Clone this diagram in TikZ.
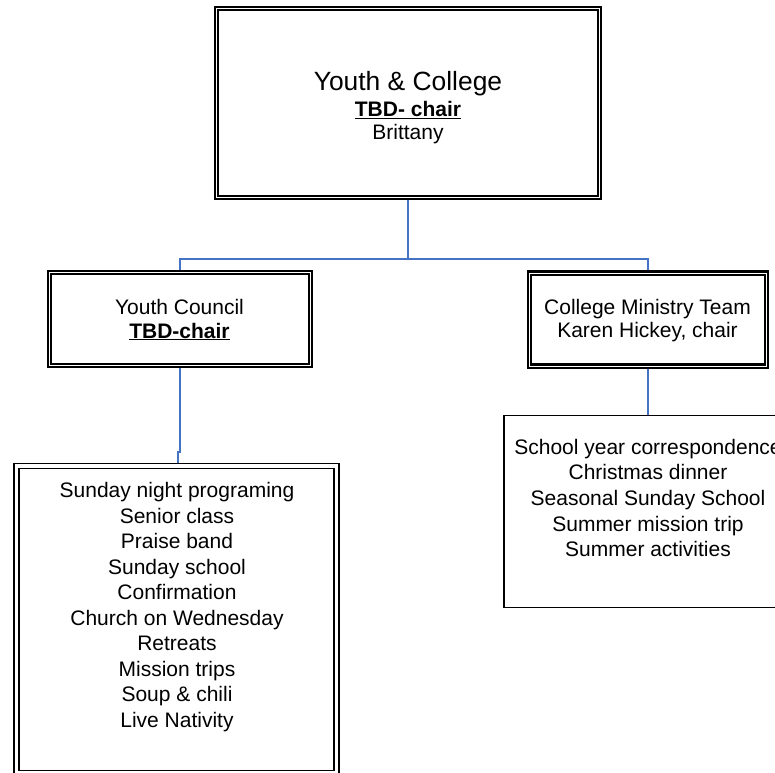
\documentclass[tikz,border=0pt]{standalone}
\usepackage{fontspec}
\setmainfont{Liberation Sans}
\definecolor{connblue}{RGB}{68,114,196}
\begin{document}
\begin{tikzpicture}[x=1pt,y=-1pt,
  conn/.style={draw=connblue,line width=2pt},
  thickbox/.style={rectangle,draw=black,double=white,line width=2.2pt,double distance=0.8pt,inner sep=0pt,outer sep=2.6pt},
  dblbox/.style={rectangle,draw=black,double=white,line width=1.6pt,double distance=3.2pt,inner sep=0pt,outer sep=3.2pt},
  plainbox/.style={rectangle,draw=black,line width=1.5pt,inner sep=0pt},
  txt/.style={anchor=base,inner sep=0pt,font=\fontsize{21}{25}\selectfont},
  big/.style={anchor=base,inner sep=0pt,font=\fontsize{26.4}{30}\selectfont}]
\useasboundingbox (0,0) rectangle (775,772);
\clip (0,0) rectangle (775,772);

% boxes
\node[thickbox,minimum width=382.5pt,minimum height=189pt] (top) at (408,103) {};
\node[thickbox,minimum width=261.7pt,minimum height=93pt] (yc) at (180,319.3) {};
\node[thickbox,minimum width=236.5pt,minimum height=93pt] (col) at (648,319.5) {};
\node[dblbox,minimum width=320pt,minimum height=307pt] (ll) at (176.5,619.5) {};
\node[plainbox,minimum width=288pt,minimum height=191.8pt] (rl) at (648,511.6) {};

% connectors
\coordinate (hub) at (408,259);
\draw[conn] (top.south) -- (hub);
\draw[conn] (yc.north) |- (hub) -| (col.north);
\coordinate (j1) at (180,452);
\coordinate (j2) at (178,452);
\draw[conn] (yc.south) -- (j1) -- (j2) -- (j2 |- ll.north);
\draw[conn] (col.south) -- (col.south |- rl.north);

% texts
\node[big] (t1) at (408,90.7) {Youth \& College};
\node[txt] (t2) at (408,116.7) {\underline{\textbf{TBD- chair}}};
\node[txt] (t3) at (408,139.5) {Brittany};

\node[txt] (y1) at (179.5,314) {Youth Council};
\node[txt] (y2) at (179.5,338) {\underline{\textbf{TBD-chair}}};

\node[txt] (c1) at (647.5,314.3) {College Ministry Team};
\node[txt] (c2) at (647.5,337.5) {Karen Hickey, chair};

\foreach [count=\i] \t in {Sunday night programing, Senior class, Praise band, Sunday school, Confirmation, Church on Wednesday, Retreats, Mission trips, Soup \& chili, Live Nativity}
  \node[txt] (la\i) at (177,{497.5+25.55*(\i-1)}) {\t};

\foreach [count=\i] \t in {School year correspondence, Christmas dinner, Seasonal Sunday School, Summer mission trip, Summer activities}
  \node[txt] (ra\i) at (648,{454+25.7*(\i-1)}) {\t};
\end{tikzpicture}
\end{document}
